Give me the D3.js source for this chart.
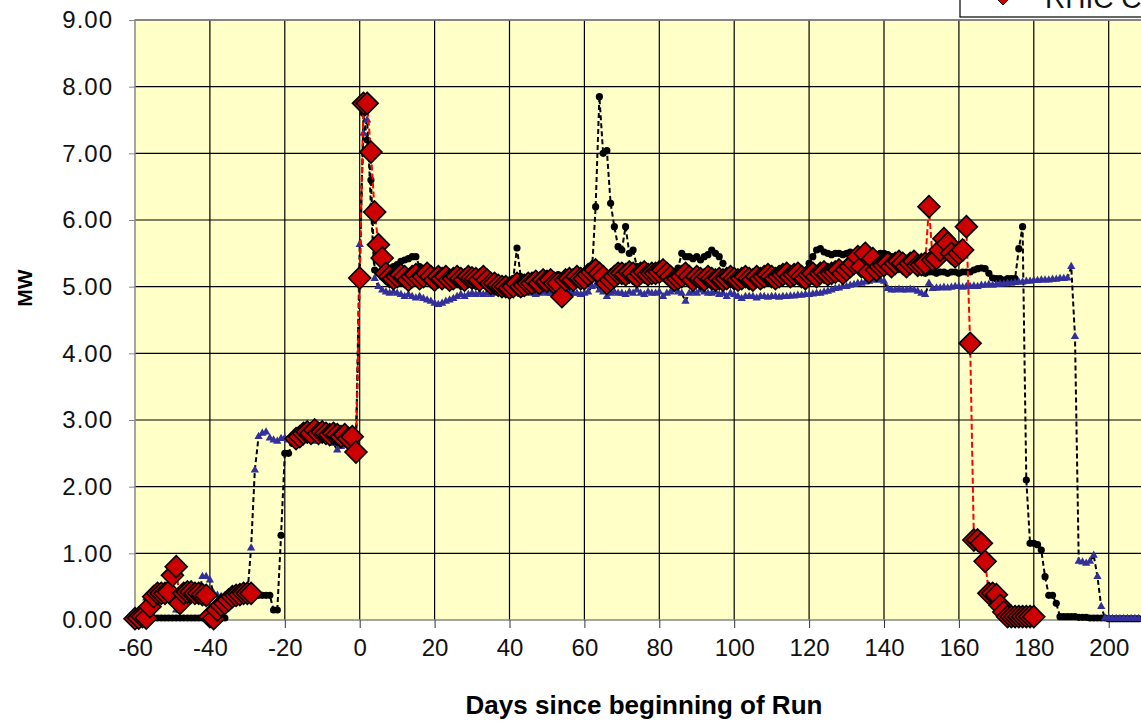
<!DOCTYPE html>
<meta charset="utf-8">
<style>
body { margin: 0; background: #fff; }
svg { display: block; font-family: "Liberation Sans", Arial, sans-serif; }
.tick text { font-size: 24px; fill: #111; }
.y-axis .tick text { letter-spacing: 1px; }
.grid line { stroke: #000; stroke-width: 1.2; }
</style>
<svg width="1141" height="723"></svg>
<script src="https://cdnjs.cloudflare.com/ajax/libs/d3/7.8.5/d3.min.js"></script>
<script>
// one value per day, first value is the day in *Start
var blackStart = -60;
var blackValues = [
  0.03,0.03,0.03,0.03,0.03,0.03,0.03,0.03,0.03,0.03,
  0.03,0.03,0.03,0.03,0.03,0.03,0.03,0.03,0.03,0.03,
  0.03,0.03,0.03,0.03,0.03,0.2,0.3,0.37,0.37,0.37,
  0.37,0.37,0.37,0.37,0.37,0.37,0.37,0.15,0.15,1.27,
  2.5,2.5,2.65,2.72,2.75,2.78,2.8,2.78,2.8,2.8,
  2.78,2.8,2.77,2.75,2.78,2.72,2.7,2.72,2.68,2.6,
  5.1,7.6,7.2,6.6,5.25,5.2,5.15,5.2,5.25,5.3,
  5.33,5.38,5.4,5.42,5.45,5.45,5.3,5.18,5.15,5.15,
  5.12,5.15,5.18,5.15,5.12,5.15,5.15,5.18,5.15,5.12,
  5.15,5.18,5.15,5.12,5.1,5.08,5.05,5.08,5.05,5.05,
  5.08,5.12,5.58,5.15,5.1,5.08,5.1,5.12,5.1,5.12,
  5.15,5.12,5.15,5.18,5.15,5.12,5.15,5.15,5.18,5.15,
  5.18,5.2,5.22,6.2,7.85,7.0,7.04,6.25,5.9,5.6,
  5.55,5.9,5.5,5.55,5.3,5.25,5.22,5.2,5.25,5.22,
  5.2,5.22,5.25,5.22,5.2,5.28,5.5,5.45,5.45,5.42,
  5.45,5.4,5.45,5.48,5.55,5.5,5.45,5.35,5.2,5.15,
  5.15,5.12,5.15,5.12,5.1,5.12,5.15,5.12,5.15,5.15,
  5.18,5.15,5.18,5.15,5.15,5.18,5.15,5.15,5.18,5.2,
  5.35,5.45,5.55,5.57,5.52,5.5,5.48,5.5,5.5,5.48,
  5.5,5.52,5.5,5.48,5.5,5.52,5.5,5.5,5.48,5.5,
  5.5,5.48,5.45,5.45,5.42,5.4,5.38,5.35,5.28,5.22,
  5.22,5.2,5.22,5.22,5.2,5.22,5.22,5.2,5.22,5.22,
  5.2,5.22,5.22,5.22,5.25,5.27,5.28,5.27,5.2,5.13,
  5.12,5.12,5.1,5.12,5.12,5.12,5.57,5.9,2.1,1.15,
  1.15,1.13,1.05,0.65,0.37,0.37,0.25,0.05,0.05,0.05,
  0.05,0.05,0.04,0.04,0.04,0.03,0.03,0.03,0.03,0.03,
  0.02,0.02,0.02,0.02,0.02,0.02,0.02,0.02,0.02
];

var blueStart = -60;
var blueValues = [
  0.02,0.02,0.02,0.33,0.35,0.35,0.35,0.35,0.35,0.35,
  0.35,0.15,0.35,0.35,0.35,0.35,0.35,0.35,0.65,0.65,
  0.6,0.4,0.37,0.35,0.35,0.35,0.35,0.35,0.35,0.35,
  0.38,1.08,2.25,2.75,2.8,2.82,2.73,2.7,2.68,2.72,
  2.73,2.7,2.68,2.67,2.65,2.7,2.72,2.7,2.68,2.7,
  2.72,2.7,2.68,2.65,2.55,2.6,2.62,2.65,2.6,2.6,
  5.63,7.3,7.5,6.2,5.12,5.0,4.95,4.92,4.9,4.92,
  4.9,4.88,4.85,4.88,4.85,4.83,4.85,4.82,4.8,4.78,
  4.75,4.73,4.75,4.78,4.8,4.82,4.85,4.88,4.85,4.88,
  4.9,4.88,4.9,4.88,4.9,4.88,4.9,4.92,4.9,4.9,
  4.9,4.92,4.9,4.88,4.9,4.92,4.9,4.88,4.9,4.92,
  4.9,4.9,4.92,4.9,4.88,4.9,4.92,4.9,4.9,4.88,
  4.9,4.92,5.0,5.02,4.95,4.92,4.85,4.9,4.92,4.9,
  4.9,4.88,4.92,4.9,4.95,4.9,4.88,4.92,4.9,4.9,
  4.92,4.85,4.9,4.92,4.95,4.92,4.9,4.78,4.9,4.92,
  4.9,4.95,4.92,4.9,4.9,4.92,4.88,4.9,4.85,4.9,
  4.88,4.85,4.82,4.85,4.85,4.85,4.83,4.85,4.85,4.84,
  4.85,4.85,4.84,4.85,4.85,4.86,4.86,4.87,4.87,4.88,
  4.88,4.89,4.9,4.9,4.92,4.93,4.95,4.97,4.98,5.0,
  5.0,5.02,5.03,5.05,5.05,5.07,5.08,5.1,5.1,5.1,
  5.08,4.97,4.95,4.95,4.96,4.95,4.95,4.96,4.95,4.93,
  4.9,4.88,5.05,4.97,4.98,4.98,4.99,4.98,4.99,5.0,
  5.0,4.99,5.0,5.0,5.01,5.0,5.02,5.02,5.03,5.02,
  5.03,5.04,5.04,5.05,5.05,5.06,5.07,5.07,5.08,5.08,
  5.09,5.09,5.1,5.1,5.1,5.11,5.11,5.12,5.12,5.13,
  5.3,4.25,0.88,0.87,0.85,0.88,0.97,0.65,0.2,0.03,
  0.03,0.02,0.02,0.02,0.02,0.02,0.02,0.02,0.02
];

var redStart = -60;
var redValues = [
  0.02,0.03,0.05,0.03,0.2,0.35,0.4,0.4,0.4,0.42,
  0.67,0.8,0.25,0.4,0.42,0.42,0.4,0.4,0.38,0.37,
  0.05,0.02,0.15,0.22,0.25,0.3,0.35,0.37,0.38,0.4,
  0.4,0.4,null,null,null,null,null,null,null,null,
  null,null,null,2.72,2.75,2.8,2.82,2.8,2.85,2.8,
  2.82,2.8,2.78,2.8,2.78,2.75,2.78,2.72,2.75,2.52,
  5.13,7.75,7.75,7.02,6.12,5.63,5.43,5.2,5.15,5.12,
  5.15,5.18,5.15,5.1,5.15,5.18,5.12,5.15,5.2,5.15,
  5.1,5.15,5.12,5.15,5.1,5.12,5.15,5.12,5.1,5.15,
  5.13,5.12,5.1,5.15,5.1,5.05,5.05,5.02,5.0,5.0,
  4.98,5.0,5.05,5.0,5.02,5.05,5.05,5.08,5.05,5.1,
  5.08,5.1,5.05,5.05,4.85,5.1,5.12,5.1,5.15,5.12,
  5.12,5.18,5.22,5.25,5.2,5.15,5.05,5.1,5.15,5.2,
  5.2,5.18,5.22,5.2,5.15,5.2,5.22,5.18,5.2,5.2,
  5.22,5.25,5.2,5.15,5.1,5.12,5.15,5.2,5.15,5.1,
  5.15,5.12,5.1,5.15,5.12,5.1,5.12,5.1,5.12,5.15,
  5.12,5.1,5.12,5.15,5.12,5.1,5.15,5.12,5.15,5.18,
  5.15,5.12,5.15,5.18,5.2,5.15,5.18,5.2,5.15,5.12,
  5.18,5.2,5.15,5.2,5.22,5.18,5.2,5.22,5.25,5.2,
  5.25,5.3,5.35,5.45,5.3,5.5,5.22,5.42,5.25,5.3,
  5.32,5.35,5.3,5.35,5.38,5.35,5.3,5.35,5.38,5.32,
  5.33,5.35,6.2,5.4,5.42,5.55,5.72,5.65,5.5,5.45,
  5.5,5.55,5.9,4.15,1.2,1.2,1.15,0.88,0.4,0.4,
  0.38,0.22,0.12,0.05,0.05,0.05,0.05,0.05,0.05,0.05,0.05
];

var xTicks = [-60, -40, -20, 0, 20, 40, 60, 80, 100, 120, 140, 160, 180, 200];
var yTicks = [0, 1, 2, 3, 4, 5, 6, 7, 8, 9];
var legendLabel = "RHIC Cryo";

function toPoints(start, values) {
  return values.map(function(v, i) { return {day: start + i, value: v}; });
}
var black = toPoints(blackStart, blackValues),
    blue = toPoints(blueStart, blueValues),
    red = toPoints(redStart, redValues);

var svg = d3.select("svg");
var plotLeft = 135, plotTop = 20, plotBottom = 620, plotRight = 1141;

var x = d3.scaleLinear().domain([-60, 220]).range([plotLeft, plotLeft + 280 * 3.745]);
var y = d3.scaleLinear().domain([0, 9]).range([plotBottom, plotTop]);

// plot area
svg.append("rect")
    .attr("x", plotLeft).attr("y", plotTop)
    .attr("width", plotRight - plotLeft).attr("height", plotBottom - plotTop)
    .attr("fill", "#ffffc8");

var grid = svg.append("g").attr("class", "grid");
grid.selectAll("line.h")
  .data(yTicks.slice(1))
  .enter().append("line")
    .attr("class", "h")
    .attr("x1", plotLeft).attr("x2", plotRight)
    .attr("y1", function(d) { return y(d); })
    .attr("y2", function(d) { return y(d); });
grid.selectAll("line.v")
  .data(xTicks.slice(1))
  .enter().append("line")
    .attr("class", "v")
    .attr("y1", plotTop).attr("y2", plotBottom)
    .attr("x1", function(d) { return x(d); })
    .attr("x2", function(d) { return x(d); });

// frame
svg.append("path")
    .attr("d", "M" + plotRight + "," + plotTop + "H" + plotLeft + "V" + plotBottom + "H" + plotRight)
    .attr("fill", "none")
    .attr("stroke", "#888")
    .attr("stroke-width", 1.5);

// axes
var xAxis = svg.append("g")
    .attr("transform", "translate(0," + plotBottom + ")")
    .call(d3.axisBottom(x).tickValues(xTicks).tickSize(8).tickPadding(11)
      .tickFormat(function(d) { return String(d); }));
xAxis.select(".domain").remove();
xAxis.selectAll(".tick line").attr("stroke", "#333");

var yAxis = svg.append("g")
    .attr("class", "y-axis")
    .attr("transform", "translate(" + plotLeft + ",0)")
    .call(d3.axisLeft(y).tickValues(yTicks).tickSize(6).tickPadding(16)
      .tickFormat(d3.format(".2f")));
yAxis.select(".domain").remove();
yAxis.selectAll(".tick line").attr("stroke", "#888");

// series
var line = d3.line()
    .defined(function(d) { return d.value !== null; })
    .x(function(d) { return x(d.day); })
    .y(function(d) { return y(d.value); });

var plot = svg.append("g");

plot.append("path")
    .datum(black)
    .attr("d", line)
    .attr("fill", "none")
    .attr("stroke", "#000")
    .attr("stroke-width", 2)
    .attr("stroke-dasharray", "5,3");

plot.append("path")
    .datum(blue)
    .attr("d", line)
    .attr("fill", "none")
    .attr("stroke", "#000")
    .attr("stroke-width", 2)
    .attr("stroke-dasharray", "5,3");

plot.append("g")
  .selectAll("circle")
  .data(black)
  .enter().append("circle")
    .attr("cx", function(d) { return x(d.day); })
    .attr("cy", function(d) { return y(d.value); })
    .attr("r", 3.6)
    .attr("fill", "#000");

var tri = d3.symbol().type(d3.symbolTriangle).size(30);
plot.append("g")
  .selectAll("path")
  .data(blue)
  .enter().append("path")
    .attr("d", tri)
    .attr("transform", function(d) { return "translate(" + x(d.day) + "," + y(d.value) + ")"; })
    .attr("fill", "#33309c");

plot.append("path")
    .datum(red)
    .attr("d", line)
    .attr("fill", "none")
    .attr("stroke", "#ff0000")
    .attr("stroke-width", 2)
    .attr("stroke-dasharray", "6,3");

var diamond = "M0,-11L11,0L0,11L-11,0Z";
plot.append("g")
  .selectAll("path")
  .data(red.filter(function(d) { return d.value !== null; }))
  .enter().append("path")
    .attr("d", diamond)
    .attr("transform", function(d) { return "translate(" + x(d.day) + "," + y(d.value) + ")"; })
    .attr("fill", "#cc0000")
    .attr("stroke", "#000")
    .attr("stroke-width", 1.6);

// legend (only its lower edge is inside the picture)
var legend = svg.append("g");
legend.append("rect")
    .attr("x", 960).attr("y", -60)
    .attr("width", 260).attr("height", 77)
    .attr("fill", "#fff")
    .attr("stroke", "#000")
    .attr("stroke-width", 1.2);
legend.append("line")
    .attr("x1", 975).attr("x2", 1030)
    .attr("y1", -4).attr("y2", -4)
    .attr("stroke", "#ff0000")
    .attr("stroke-width", 2)
    .attr("stroke-dasharray", "6,3");
legend.append("path")
    .attr("d", "M0,-9L9,0L0,9L-9,0Z")
    .attr("transform", "translate(1003,-4)")
    .attr("fill", "#cc0000")
    .attr("stroke", "#000");
legend.append("text")
    .attr("x", 1045).attr("y", 8)
    .attr("font-size", 28)
    .attr("fill", "#111")
    .text(legendLabel);

// titles
svg.append("text")
    .attr("x", 644).attr("y", 714)
    .attr("text-anchor", "middle")
    .attr("font-size", 26)
    .attr("font-weight", "bold")
    .text("Days since beginning of Run");

svg.append("text")
    .attr("transform", "translate(32,288) rotate(-90)")
    .attr("text-anchor", "middle")
    .attr("font-size", 21)
    .attr("font-weight", "bold")
    .text("MW");
</script>
